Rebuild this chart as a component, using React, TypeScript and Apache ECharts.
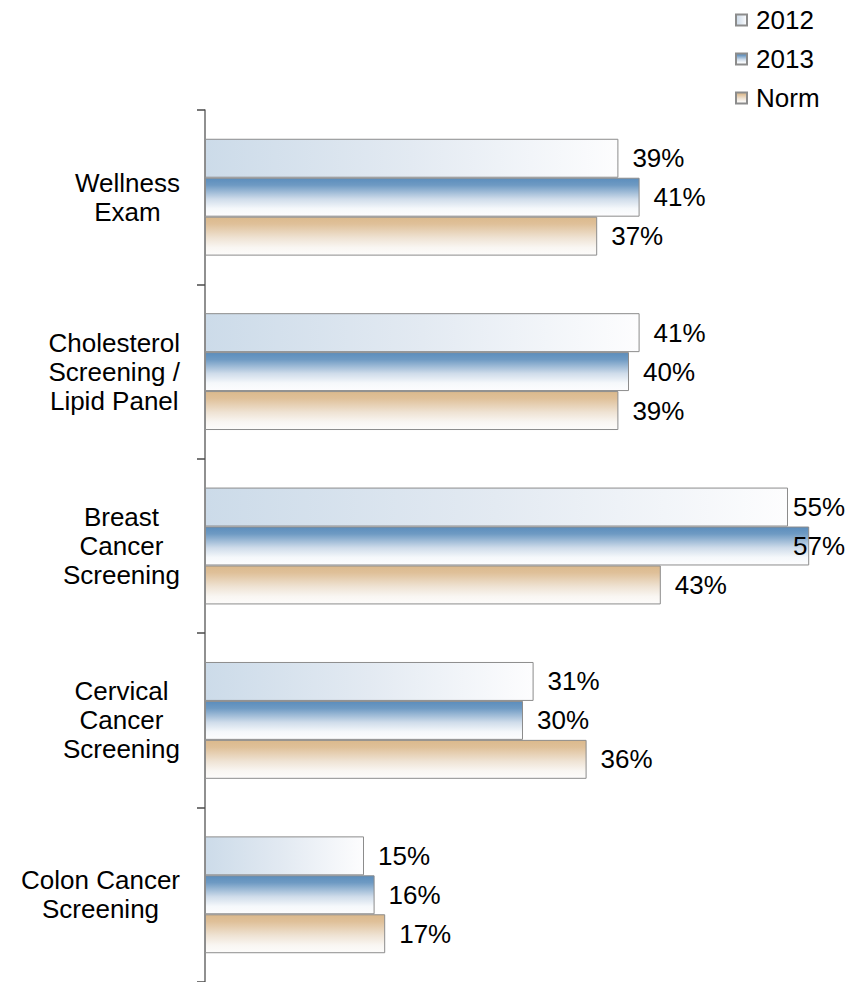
import React, { useEffect, useRef } from "react";
import * as echarts from "echarts";

const categories = [
  "Wellness\nExam",
  "Cholesterol\nScreening /\nLipid Panel",
  "Breast\nCancer\nScreening",
  "Cervical\nCancer\nScreening",
  "Colon Cancer\nScreening",
];
const seriesNames = ["2012", "2013", "Norm"];
const values2012 = [39, 41, 55, 31, 15];
const values2013 = [41, 40, 57, 30, 16];
const valuesNorm = [37, 39, 43, 36, 17];

const FONT = "'Liberation Sans', Arial, Helvetica, sans-serif";
const LABEL_RIGHT_LIMIT = 845;

const fill2012 = new echarts.graphic.LinearGradient(0, 0, 1, 0, [
  { offset: 0, color: "#ccdbe9" },
  { offset: 0.5, color: "#e3eaf2" },
  { offset: 1, color: "#fdfdfe" },
]);
const fill2013 = new echarts.graphic.LinearGradient(0, 0, 0, 1, [
  { offset: 0, color: "#5b8dbc" },
  { offset: 0.18, color: "#6e9ac3" },
  { offset: 0.55, color: "#cfdcea" },
  { offset: 0.8, color: "#f5f8fb" },
  { offset: 1, color: "#fdfdfe" },
]);
const fillNorm = new echarts.graphic.LinearGradient(0, 0, 0, 1, [
  { offset: 0, color: "#dbb98c" },
  { offset: 0.18, color: "#dfc099" },
  { offset: 0.55, color: "#efe3d4" },
  { offset: 0.8, color: "#f9f6f2" },
  { offset: 1, color: "#fdfcfb" },
]);

function barSeries(name: string, data: number[], fill: any) {
  return {
    name,
    type: "bar",
    data,
    barGap: "0%",
    barCategoryGap: "33%",
    itemStyle: { color: fill, borderColor: "#8c8c8c", borderWidth: 1 },
    label: {
      show: true,
      position: "right",
      distance: 14,
      formatter: "{c}%",
      fontSize: 26,
      fontFamily: FONT,
      color: "#000",
    },
    // keep labels of the longest bars inside the chart's right edge
    labelLayout: (params: any) => {
      const r = params.labelRect;
      const over = r.x + r.width - LABEL_RIGHT_LIMIT;
      return over > 0 ? { dx: -over } : {};
    },
  };
}

export default function App() {
  const ref = useRef<HTMLDivElement>(null);

  useEffect(() => {
    if (!ref.current) return;
    const chart = echarts.init(ref.current, undefined, { renderer: "svg" });
    chart.setOption({
      animation: false,
      backgroundColor: "#ffffff",
      legend: {
        data: seriesNames,
        orient: "vertical",
        left: 730,
        top: 2,
        itemWidth: 11,
        itemHeight: 11,
        itemGap: 13,
        icon: "rect",
        textStyle: {
          fontSize: 26,
          lineHeight: 26,
          fontFamily: FONT,
          color: "#000",
          padding: [0, 0, 0, 4],
        },
      },
      grid: { left: 205, right: 21, top: 110, bottom: 0, containLabel: false },
      xAxis: {
        type: "value",
        min: 0,
        max: 60,
        show: false,
      },
      yAxis: {
        type: "category",
        data: categories,
        inverse: true,
        axisLine: { show: true, lineStyle: { color: "#6b6b6b", width: 1.5 } },
        axisTick: {
          show: true,
          length: 8,
          lineStyle: { color: "#4a4a4a", width: 1.5 },
        },
        axisLabel: {
          margin: 25,
          align: "right",
          formatter: (v: string) =>
            v
              .split("\n")
              .map((l) => `{c|${l}}`)
              .join("\n"),
          rich: {
            c: {
              align: "center",
              fontSize: 26,
              lineHeight: 29,
              fontFamily: FONT,
              color: "#000",
            },
          },
        },
      },
      series: [
        barSeries(seriesNames[0], values2012, fill2012),
        barSeries(seriesNames[1], values2013, fill2013),
        barSeries(seriesNames[2], valuesNorm, fillNorm),
      ],
    });
    return () => chart.dispose();
  }, []);

  return (
    <div
      ref={ref}
      style={{ position: "absolute", left: 0, top: 0, width: 862, height: 982 }}
    />
  );
}
